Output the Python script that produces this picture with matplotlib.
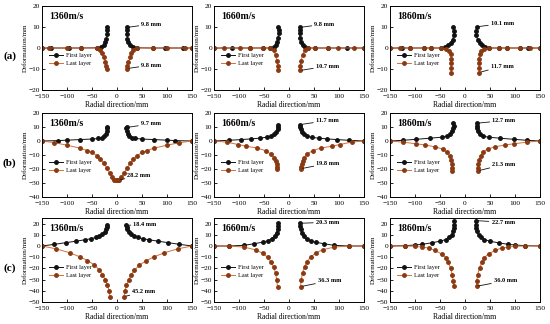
import numpy as np
import matplotlib
matplotlib.use("Agg")
import matplotlib.pyplot as plt

plt.rcParams['font.family'] = ['Liberation Serif', 'DejaVu Serif']
plt.rcParams['axes.unicode_minus'] = True

speeds = ["1360m/s", "1660m/s", "1860m/s"]
row_labels = ["(a)", "(b)", "(c)"]
x_ticks = [-150, -100, -50, 0, 50, 100, 150]

# ---- Row (a): left branches (right branch mirrored) ----
a1_first_x = [-150, -133, -96, -72, -40, -32, -26, -23, -21, -20, -19.5, -20]
a1_first_y = [0, 0, 0, 0, 0.1, 0.5, 1.5, 3, 4.5, 6.5, 8.5, 9.8]
a1_last_x = [-150, -137, -100, -72, -40, -33, -29, -26, -23, -21, -20]
a1_last_y = [0, 0, 0, 0, 0, -0.8, -2.5, -4.5, -6.5, -8.5, -9.8]

a2_first_x = [-150, -115, -78, -52, -38, -31, -27, -24, -22, -21, -21, -22]
a2_first_y = [0, 0, 0, 0, 0, 0.5, 1.5, 3, 5, 7, 8.5, 9.8]
a2_last_x = [-150, -130, -98, -78, -52, -38, -31, -27, -24, -22.5, -22]
a2_last_y = [0, 0, 0, 0, 0, 0, -0.8, -3.5, -6, -8.5, -10.7]

a3_first_x = [-150, -126, -110, -83, -68, -48, -40, -34, -29, -25, -22.5, -22, -24]
a3_first_y = [0, 0, 0, 0, 0, 0, 0.5, 1.2, 2.5, 4, 6, 8.2, 10.1]
a3_last_x = [-150, -130, -110, -83, -68, -48, -38, -32, -29, -28, -28, -28, -28]
a3_last_y = [0, 0, 0, 0, 0, 0, -0.5, -1.5, -3, -5, -7, -9.5, -11.7]

# ---- Row (b) ----
b1_first_x = [-150, -117, -100, -75, -50, -37, -30, -25, -22, -20, -19, -20]
b1_first_y = [0, 0.3, 0.6, 1, 1.4, 1.8, 2.5, 3.5, 5, 7, 9, 9.7]
b1_last_x = [-150, -125, -100, -75, -60, -50, -40, -33, -26, -20, -14, -9, -5, -2, 0,
             2, 5, 9, 14, 20, 26, 33, 40, 50, 60, 75, 100, 125, 150]
b1_last_y = [0, -1.2, -3, -5, -6.8, -8.2, -10.5, -13, -16, -19.5, -23, -26, -27.5, -28.1, -28.2,
             -28.1, -27.5, -26, -23, -19.5, -16, -13, -10.5, -8.2, -6.8, -5, -3, -1.2, 0]

b2_first_x = [-150, -120, -96, -76, -59, -45, -36, -30, -26, -23, -22, -22]
b2_first_y = [0, 0.5, 1, 1.5, 2, 2.7, 3.5, 4.8, 6.5, 8.5, 10.3, 11.7]
b2_last_x = [-150, -125, -102, -86, -64, -47, -36, -30, -27, -25, -24, -23.5]
b2_last_y = [0, -0.8, -2.5, -3.7, -5, -6.9, -9.4, -11.8, -14, -16.5, -18.5, -19.8]

b3_first_x = [-150, -124, -98, -70, -47, -36, -30, -26, -24, -23, -23.5]
b3_first_y = [0, 0.5, 1.2, 2, 2.7, 3.5, 4.8, 6.8, 9, 11, 12.7]
b3_last_x = [-150, -124, -98, -80, -60, -45, -36, -31, -28, -26.5, -26, -26]
b3_last_y = [0, -0.8, -2, -2.8, -4.2, -5.7, -8, -10.5, -13.5, -16.5, -19, -21.3]

# ---- Row (c) ----
c1_first_x = [-150, -125, -102, -82, -65, -52, -42, -35, -29, -24, -21, -19.5, -19]
c1_first_y = [0, 1.5, 3, 4.3, 5.5, 6.5, 7.7, 9.2, 10.7, 12.9, 15, 17, 18.4]
c1_last_x = [-150, -122, -95, -75, -59, -45, -35, -29, -23.5, -19, -16, -14]
c1_last_y = [0, -2.5, -6, -9.5, -13, -17, -21.5, -25.5, -30, -35, -40, -45.2]

c2_first_x = [-150, -120, -90, -70, -53, -43, -35, -29, -25, -23, -22.5, -22.5]
c2_first_y = [0, 0, 0.6, 2, 3.4, 4.6, 6.4, 9, 12, 15, 18, 20.3]
c2_last_x = [-150, -120, -90, -67, -53, -43, -36, -31, -27, -24.5, -23]
c2_last_y = [0, 0, -1, -3.4, -6.4, -10, -14, -18.7, -24, -30, -36.3]

c3_first_x = [-150, -120, -100, -86, -67, -50, -38, -32, -27, -24, -22.5, -21.5, -21.5]
c3_first_y = [0, 0.3, 0.9, 1.5, 2.8, 4.3, 5.8, 7.7, 10, 13, 16, 19, 22.7]
c3_last_x = [-150, -120, -100, -86, -73, -60, -47, -38, -34, -29, -25.5, -23.5, -23]
c3_last_y = [0, 0, -0.3, -0.9, -1.8, -4, -7, -10.7, -14.7, -19.3, -25.5, -31, -36]

first_labels = [["9.8 mm", "9.8 mm", "10.1 mm"],
                ["9.7 mm", "11.7 mm", "12.7 mm"],
                ["18.4 mm", "20.3 mm", "22.7 mm"]]
last_labels = [["9.8 mm", "10.7 mm", "11.7 mm"],
               ["28.2 mm", "19.8 mm", "21.3 mm"],
               ["45.2 mm", "36.3 mm", "36.0 mm"]]
first_text_pos = [[(49, 11.4), (51, 11.4), (52, 11.7)],
                  [(48, 12.2), (54, 14.6), (55, 14.6)],
                  [(33, 19.3), (54, 21.2), (53, 21.2)]]
last_text_pos = [[(49, -8.1), (54, -8.6), (52, -8.6)],
                 [(21, -24.5), (55, -16), (55, -16.7)],
                 [(31, -40.8), (58, -31), (58, -31)]]

first_data = [[(a1_first_x, a1_first_y), (a2_first_x, a2_first_y), (a3_first_x, a3_first_y)],
              [(b1_first_x, b1_first_y), (b2_first_x, b2_first_y), (b3_first_x, b3_first_y)],
              [(c1_first_x, c1_first_y), (c2_first_x, c2_first_y), (c3_first_x, c3_first_y)]]
last_data = [[(a1_last_x, a1_last_y), (a2_last_x, a2_last_y), (a3_last_x, a3_last_y)],
             [(b1_last_x, b1_last_y), (b2_last_x, b2_last_y), (b3_last_x, b3_last_y)],
             [(c1_last_x, c1_last_y), (c2_last_x, c2_last_y), (c3_last_x, c3_last_y)]]

row_ylims = [(-20, 20), (-40, 20), (-50, 25)]
row_yticks = [[-20, -10, 0, 10, 20], [-40, -30, -20, -10, 0, 10, 20],
              [-50, -40, -30, -20, -10, 0, 10, 20]]

W, H = 550, 324
fig = plt.figure(figsize=(W / 100, H / 100), dpi=100)
fig.patch.set_facecolor('white')

col_left = [42, 214, 390]
col_w = 150
row_top = [6, 113, 218]
row_h = 84

black = '#111111'
orange_line = '#d4703a'
orange_mk = '#8a3a12'


def mirror(x, y):
    return [-v for v in x[::-1]], y[::-1]


for r in range(3):
    for c in range(3):
        ax = fig.add_axes([col_left[c] / W, 1 - (row_top[r] + row_h) / H, col_w / W, row_h / H])
        fx, fy = first_data[r][c]
        lx, ly = last_data[r][c]
        kw_f = dict(color=black, lw=0.7, marker='o', ms=2.5, mfc=black, mec=black)
        kw_l = dict(color=orange_line, lw=0.7, marker='o', ms=2.5, mfc=orange_mk, mec=orange_mk)
        ax.plot(fx, fy, label='First layer', **kw_f)
        rfx, rfy = mirror(fx, fy)
        ax.plot(rfx, rfy, **kw_f)
        ax.plot(lx, ly, label='Last layer', **kw_l)
        if not (r == 1 and c == 0):
            rlx, rly = mirror(lx, ly)
            ax.plot(rlx, rly, **kw_l)
        ax.set_xlim(-150, 150)
        ax.set_ylim(*row_ylims[r])
        ax.set_xticks(x_ticks)
        ax.set_yticks(row_yticks[r])
        ax.tick_params(direction='in', length=2, width=0.6, labelsize=5.3)
        ax.tick_params(axis='x', pad=3)
        ax.tick_params(axis='y', pad=1.5)
        for s in ax.spines.values():
            s.set_linewidth(0.7)
        ax.set_xlabel('Radial direction/mm', fontsize=5.5, labelpad=1.5)
        ax.set_ylabel('Deformation/mm', fontsize=5, labelpad=0.5)
        ax.text(0.05, 0.88, speeds[c], transform=ax.transAxes, fontsize=7,
                fontweight='bold', va='center', ha='left')
        # annotations
        tipf = (rfx[0], rfy[0])
        if r == 1 and c == 0:
            tipl = (3, -28)
        else:
            tipl = (-lx[-1], ly[-1])
        ax.annotate(first_labels[r][c], xy=tipf, xytext=first_text_pos[r][c],
                    fontsize=4.5, fontweight='bold', va='center', ha='left',
                    arrowprops=dict(arrowstyle='-', lw=0.6, color=black,
                                    shrinkA=0, shrinkB=1.5))
        ax.annotate(last_labels[r][c], xy=tipl, xytext=last_text_pos[r][c],
                    fontsize=4.5, fontweight='bold', va='center', ha='left',
                    arrowprops=dict(arrowstyle='-', lw=0.6, color=black,
                                    shrinkA=0, shrinkB=1.5))
        ax.legend(loc='upper left', bbox_to_anchor=(0.03, 0.47), frameon=False,
                  fontsize=4.5, handlelength=2.2, handletextpad=0.5, labelspacing=0.4,
                  borderaxespad=0)
    fig.text(9.5 / W, 1 - (row_top[r] + row_h * 0.6) / H, row_labels[r], fontsize=8,
             fontweight='bold', ha='center', va='center')

fig.savefig('out.png', dpi=100)
